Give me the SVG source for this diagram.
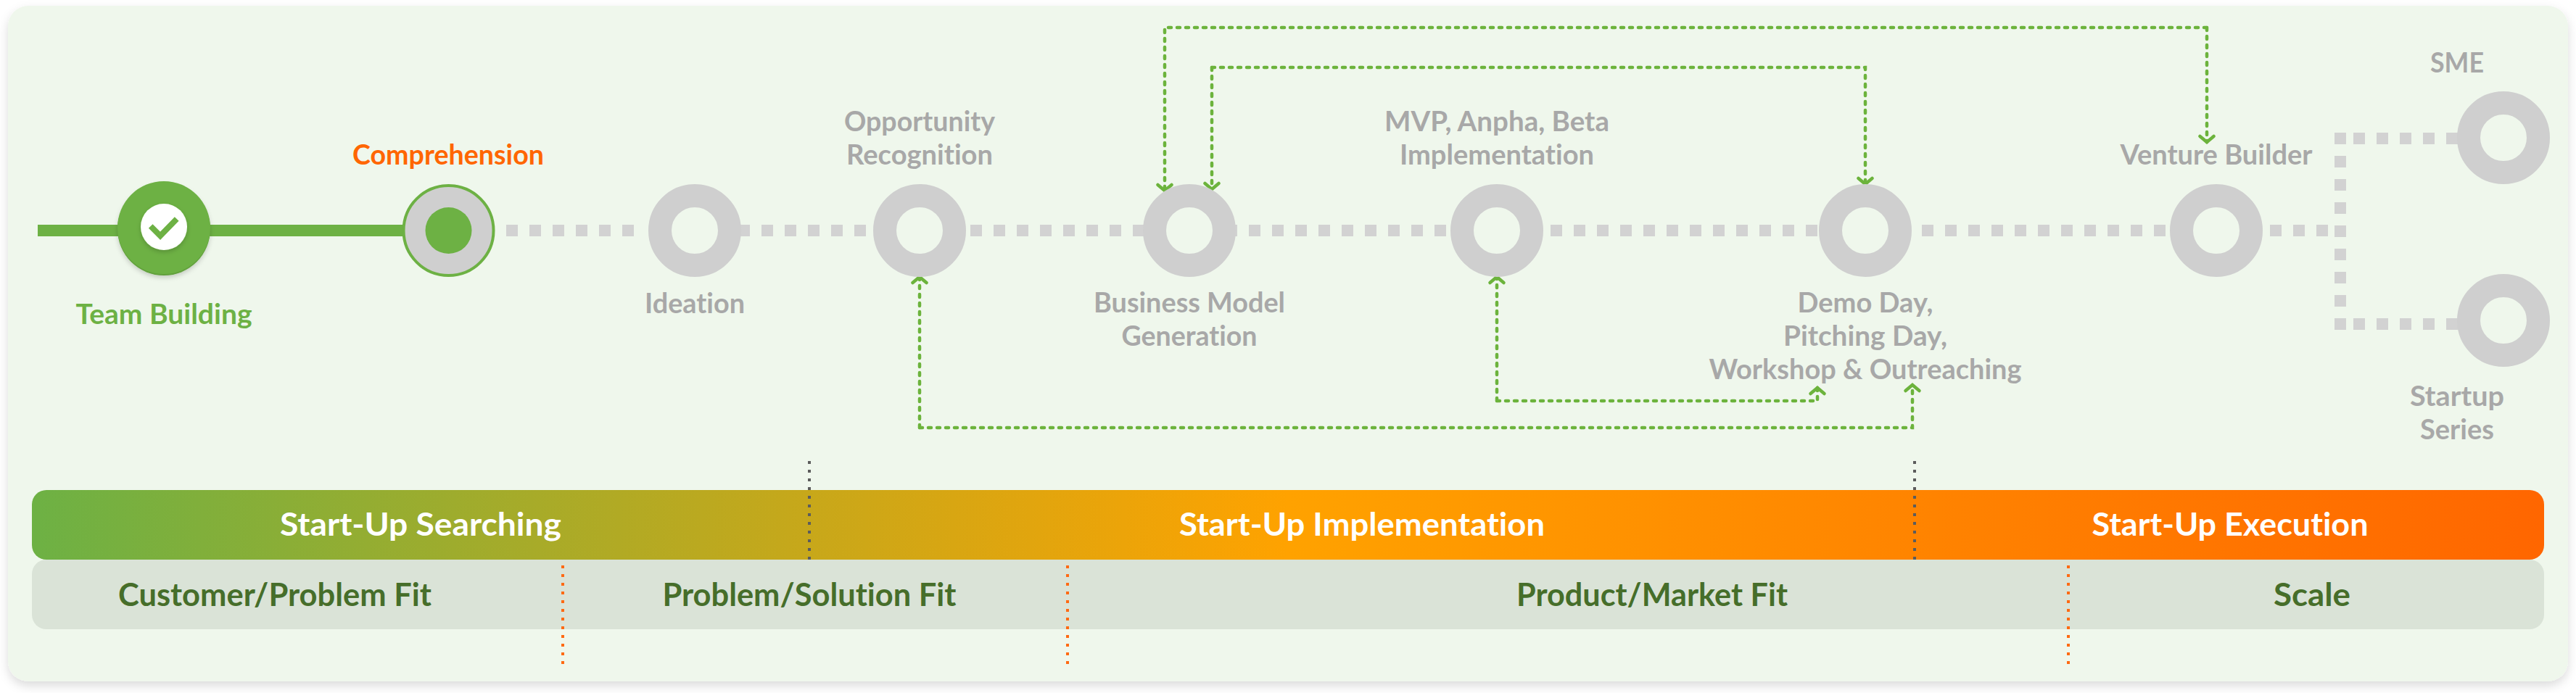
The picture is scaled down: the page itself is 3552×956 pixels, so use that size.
<svg xmlns="http://www.w3.org/2000/svg" width="3552" height="956" viewBox="0 0 3552 956">
<style>
text{font-family:"Lato","Noto Sans",sans-serif;font-weight:700;text-anchor:middle;font-variant-ligatures:none;font-size:37.500px}
.g{fill:#a8a8a8}
.b{font-size:43px;fill:#ffffff}
.f{font-size:43px;fill:#466e2a}
.ring{fill:none;stroke:#cfcfcf;stroke-width:32}
.dash{stroke:#d2d2d2;stroke-width:16;stroke-dasharray:16 16;fill:none}
.flow{fill:none;stroke:#6cb33c;stroke-width:4.500;stroke-dasharray:4 8;stroke-linecap:round;marker-end:url(#arr)}
</style>
<defs>
<linearGradient id="bar" x1="44" x2="3508" y1="0" y2="0" gradientUnits="userSpaceOnUse"><stop offset="0" stop-color="#6db144"/><stop offset="0.5" stop-color="#ffa200"/><stop offset="1" stop-color="#ff6600"/></linearGradient>
<filter id="sh" x="-3%" y="-10%" width="106%" height="120%"><feDropShadow dx="0" dy="6" stdDeviation="7" flood-color="#000" flood-opacity="0.14"/></filter>
<filter id="sh2" x="-20%" y="-20%" width="140%" height="140%"><feDropShadow dx="0" dy="3" stdDeviation="3" flood-color="#000" flood-opacity="0.18"/></filter>
<marker id="arr" markerUnits="userSpaceOnUse" markerWidth="30" markerHeight="30" refX="20" refY="15" orient="auto"><path d="M12 5.500L20 15L12 24.500" fill="none" stroke="#6cb33c" stroke-width="4.500" stroke-linecap="round"/></marker>
</defs>
<rect id="panel" x="11" y="8" width="3530" height="932" rx="28" fill="#eff7ec" filter="url(#sh)"/>
<g id="connectors">
<path d="M52 318H560" stroke="#6db144" stroke-width="16" fill="none"/>
<path class="dash" d="M698 318H890"/>
<path class="dash" d="M1018 318H1210"/>
<path class="dash" d="M1338 318H1578"/>
<path class="dash" d="M1690 318H2010"/>
<path class="dash" d="M2138 318H2510"/>
<path class="dash" d="M2650 318H2986"/>
<path class="dash" d="M3130 318H3226"/>
<path class="dash" d="M3227 183V455"/>
<path class="dash" d="M3245 191H3390"/>
<path class="dash" d="M3245 447H3390"/>
<path class="flow" d="M3043 38H1606V263"/>
<path class="flow" d="M3043 38V196"/>
<path class="flow" d="M1671 93V261"/>
<path class="flow" d="M1671 93H2572V254"/>
<path class="flow" d="M2064 553H2506V535"/>
<path class="flow" d="M2064 553V382"/>
<path class="flow" d="M1268 590H2637V531"/>
<path class="flow" d="M1268 590V382"/>
</g>
<g id="bars">
<rect x="44" y="772" width="3464" height="96" rx="20" fill="#dae3d7"/>
<rect x="44" y="676" width="3464" height="96" rx="20" fill="url(#bar)"/>
<path d="M1116 636V772M2640 636V772" stroke="#5c5c5c" stroke-width="4" stroke-dasharray="4 8" fill="none"/>
<path d="M776 780V916M1472 780V916M2852 780V916" stroke="#ff6a13" stroke-width="4" stroke-dasharray="4 8" fill="none"/>
<text class="b" x="580" y="739" textLength="388" lengthAdjust="spacingAndGlyphs">Start-Up Searching</text>
<text class="b" x="1878" y="739" textLength="504" lengthAdjust="spacingAndGlyphs">Start-Up Implementation</text>
<text class="b" x="3075" y="739" textLength="381" lengthAdjust="spacingAndGlyphs">Start-Up Execution</text>
<text class="f" x="379" y="836" textLength="432" lengthAdjust="spacingAndGlyphs">Customer/Problem Fit</text>
<text class="f" x="1116" y="836" textLength="405" lengthAdjust="spacingAndGlyphs">Problem/Solution Fit</text>
<text class="f" x="2278" y="836" textLength="374" lengthAdjust="spacingAndGlyphs">Product/Market Fit</text>
<text class="f" x="3188" y="836" textLength="106" lengthAdjust="spacingAndGlyphs">Scale</text>
</g>
<g id="team-building">
<circle cx="226" cy="316" r="64" fill="#62a03c" filter="url(#sh2)"/>
<circle cx="226" cy="314" r="64" fill="#6db144"/>
<circle cx="226" cy="313" r="32" fill="#fff" filter="url(#sh2)"/>
<path d="M207.700 312L221 325.300L243.700 302" fill="none" stroke="#6db144" stroke-width="8"/>
<text x="226" y="447" fill="#6db144" textLength="243" lengthAdjust="spacingAndGlyphs">Team Building</text>
</g>
<g id="comprehension">
<circle cx="618.500" cy="318" r="62" fill="#cfcfcf" stroke="#6db144" stroke-width="4"/>
<circle cx="618.500" cy="318" r="32" fill="#6db144"/>
<text x="618" y="227" fill="#ff6600" textLength="264" lengthAdjust="spacingAndGlyphs">Comprehension</text>
</g>
<g id="ideation"><circle class="ring" cx="958" cy="318" r="48"/><text class="g" x="958" y="432" textLength="138" lengthAdjust="spacingAndGlyphs">Ideation</text></g>
<g id="opportunity"><circle class="ring" cx="1268" cy="318" r="48"/><text class="g" x="1268" y="181" textLength="208" lengthAdjust="spacingAndGlyphs">Opportunity</text><text class="g" x="1268" y="227" textLength="202" lengthAdjust="spacingAndGlyphs">Recognition</text></g>
<g id="business-model"><circle class="ring" cx="1640" cy="318" r="48"/><text class="g" x="1640" y="431" textLength="264" lengthAdjust="spacingAndGlyphs">Business Model</text><text class="g" x="1640" y="477" textLength="187" lengthAdjust="spacingAndGlyphs">Generation</text></g>
<g id="mvp"><circle class="ring" cx="2064" cy="318" r="48"/><text class="g" x="2064" y="181" textLength="310" lengthAdjust="spacingAndGlyphs">MVP, Anpha, Beta</text><text class="g" x="2064" y="227" textLength="268" lengthAdjust="spacingAndGlyphs">Implementation</text></g>
<g id="demo-day"><circle class="ring" cx="2572" cy="318" r="48"/><text class="g" x="2572" y="431" textLength="187" lengthAdjust="spacingAndGlyphs">Demo Day,</text><text class="g" x="2572" y="477" textLength="226" lengthAdjust="spacingAndGlyphs">Pitching Day,</text><text class="g" x="2572" y="523" textLength="431" lengthAdjust="spacingAndGlyphs">Workshop &amp; Outreaching</text></g>
<g id="venture-builder"><circle class="ring" cx="3056" cy="318" r="48"/><text class="g" x="3056" y="227" textLength="265" lengthAdjust="spacingAndGlyphs">Venture Builder</text></g>
<g id="sme"><circle class="ring" cx="3452" cy="190" r="48"/><text class="g" x="3388" y="100" textLength="74" lengthAdjust="spacingAndGlyphs">SME</text></g>
<g id="startup-series"><circle class="ring" cx="3452" cy="442" r="48"/><text class="g" x="3388" y="560" textLength="130" lengthAdjust="spacingAndGlyphs">Startup</text><text class="g" x="3388" y="606" textLength="102" lengthAdjust="spacingAndGlyphs">Series</text></g>
</svg>
